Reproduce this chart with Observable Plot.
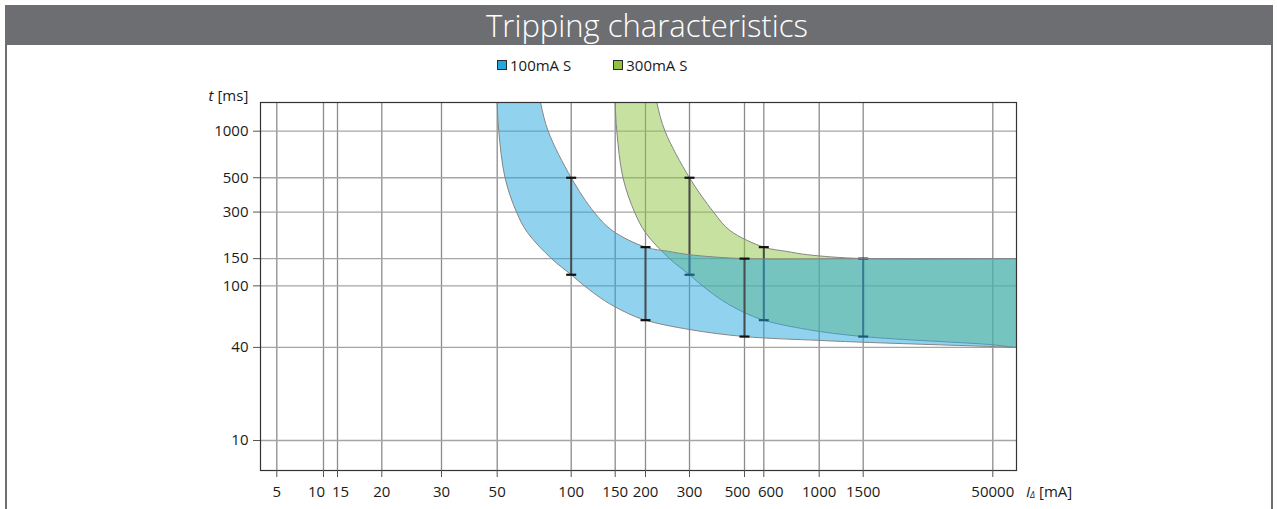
<!DOCTYPE html>
<html>
<head>
<meta charset="utf-8">
<script src="https://cdn.jsdelivr.net/npm/d3@7"></script>
<script src="https://cdn.jsdelivr.net/npm/@observablehq/plot@0.6"></script>
<style>
  body { margin: 0; width: 1277px; height: 509px; position: relative; overflow: hidden; background: #fff; font-family: "Open Sans", sans-serif; }
  #border { position: absolute; left: 5px; top: 5px; width: 1268px; height: 520px; box-sizing: border-box; border-left: 2px solid #6d6e71; border-right: 2px solid #6d6e71; }
  #header { position: absolute; left: 5px; top: 5px; width: 1268px; height: 40px; box-sizing: border-box; padding-left: 16px; background: #6d6e71; color: #fff; font-weight: 300; font-size: 31px; line-height: 40px; text-align: center; }
  #legend { position: absolute; left: 497px; top: 56px; height: 18px; display: flex; align-items: center; font-size: 15px; color: #1a1a1a; }
  .item { display: flex; align-items: center; margin-right: 42px; }
  .sw { width: 8px; height: 8px; border: 1px solid #2a2a2a; margin-right: 3px; }
  #chart { position: absolute; left: 0; top: 80px; }
</style>
</head>
<body>
<div id="border"></div>
<div id="header">Tripping characteristics</div>
<div id="legend"></div>
<div id="chart"></div>
<script>
// ---- data ----
const seriesNames = ["100mA S", "300mA S"];
const seriesColors = ["#23A7DF", "#8DC341"];

const xTicks = [5, 10, 15, 20, 30, 50, 100, 150, 200, 300, 500, 600, 1000, 1500, 50000];
const yTicks = [10, 40, 100, 150, 300, 500, 1000];

// 100mA S band
const blueLowerX = [49.9, 50, 50.75, 53.8, 59.9, 66.4, 83.2, 100, 113, 135.9, 167, 200, 300, 500, 1000, 1500, 50000, 95000, 200000];
const blueLowerY = [2600, 1533, 1000, 500, 300, 221, 150, 118, 100, 80.3, 67.1, 60, 52.2, 47, 44.4, 43.2, 40.5, 40, 39.8];
const blueUpperX = [70, 75, 80.6, 100, 123.4, 145.9, 200, 247.9, 300, 500, 1500, 95000, 200000];
const blueUpperY = [2600, 1533, 1000, 500, 300, 228, 178, 167, 159, 150, 150, 150, 150];
const blueBarX = [100, 200, 500];
const blueBarLo = [118, 60, 47];
const blueBarHi = [500, 178, 150];

// 300mA S band
const greenLowerX = [149.7, 150, 152.3, 161.5, 180.2, 200, 249.5, 300, 338.5, 407.6, 500, 600, 897.6, 1500, 50000, 95000, 200000];
const greenLowerY = [2600, 1533, 1000, 500, 300, 221, 150, 118, 100, 80.3, 67.1, 60, 52.2, 47, 41.6, 40, 39.8];
const greenUpperX = [210, 222, 239.5, 300, 375, 436.9, 600, 741.8, 897.6, 1500, 95000, 200000];
const greenUpperY = [2600, 1533, 1000, 500, 300, 228, 178, 167, 159, 150, 150, 150];
const greenBarX = [300, 600, 1500];
const greenBarLo = [118, 60, 47];
const greenBarHi = [500, 178, 150];

// ---- axis layout: the current axis is not uniformly logarithmic;
// offset (px) of each tick from the left edge of the frame, and label nudges ----
const xTickOffsets = [16.3, 63, 77, 121.3, 181, 236.7, 310.7, 354.7, 385, 429, 484, 503.3, 558.7, 602.7, 732.3];
const xLabelNudge = [0, -7, 3, 0, 0, 0, 0, 0, 0, 0, -7, 7, 0, 0, 0];
const xAxisLength = 756;

function xu(v) {
  const n = xTicks.length;
  let i = 0;
  while (i < n - 2 && v >= xTicks[i + 1]) i++;
  const a = Math.log(xTicks[i]), b = Math.log(xTicks[i + 1]);
  return xTickOffsets[i] + (Math.log(v) - a) / (b - a) * (xTickOffsets[i + 1] - xTickOffsets[i]);
}
const xTickU = xTicks.map(xu);

const pts = (xs, ys) => xs.map((x, i) => ({x, y: ys[i]}));
const blueLower = pts(blueLowerX, blueLowerY), blueUpper = pts(blueUpperX, blueUpperY);
const greenLower = pts(greenLowerX, greenLowerY), greenUpper = pts(greenUpperX, greenUpperY);
const bluePoly = [...blueLower, ...blueUpper.slice().reverse()];
const greenPoly = [...greenLower, ...greenUpper.slice().reverse()];
const bars = (xs, lo, hi) => xs.map((x, i) => ({x, lo: lo[i], hi: hi[i]}));
const blueBars = bars(blueBarX, blueBarLo, blueBarHi);
const greenBars = bars(greenBarX, greenBarLo, greenBarHi);
const caps = (b) => b.flatMap(d => [{x: d.x, y: d.lo}, {x: d.x, y: d.hi}]);

const capSymbol = {draw(ctx, size) { const w = Math.sqrt(size / Math.PI); ctx.moveTo(-w, 0); ctx.lineTo(w, 0); }};
const X = d => xu(d.x);

function bandMarks(poly, lower, upper, barData, color) {
  return [
    Plot.line(poly, {x: X, y: "y", curve: "catmull-rom", fill: color, fillOpacity: 0.5, stroke: "none", clip: true}),
    Plot.line(lower, {x: X, y: "y", curve: "catmull-rom", stroke: "#858585", strokeWidth: 1, clip: true}),
    Plot.line(upper, {x: X, y: "y", curve: "catmull-rom", stroke: "#858585", strokeWidth: 1, clip: true}),
    Plot.ruleX(barData, {x: X, y1: "lo", y2: "hi", stroke: "#4a4a4a", strokeWidth: 2}),
    Plot.dot(caps(barData), {x: X, y: "y", symbol: capSymbol, r: 5, stroke: "#111", strokeWidth: 2.2, fill: "none"})
  ];
}

const svg = Plot.plot({
  width: 1277, height: 429,
  marginLeft: 260, marginRight: 261, marginTop: 22, marginBottom: 39,
  style: {background: "none", fontFamily: "'Open Sans', sans-serif", fontSize: "15px", color: "#1a1a1a", overflow: "visible"},
  x: {type: "linear", domain: [0, xAxisLength]},
  y: {type: "log", domain: [6.4, 1533]},
  marks: [
    Plot.gridX({ticks: xTickU, stroke: "#8c8c8c", strokeOpacity: 1, strokeWidth: 1.3}),
    Plot.gridY({ticks: yTicks, stroke: "#a5a5a5", strokeOpacity: 1, strokeWidth: 1.3}),
    ...bandMarks(greenPoly, greenLower, greenUpper, greenBars, seriesColors[1]),
    ...bandMarks(bluePoly, blueLower, blueUpper, blueBars, seriesColors[0]),
    Plot.frame({stroke: "#333", strokeWidth: 1.2}),
    Plot.axisX({ticks: xTickU, tickFormat: () => "", tickSize: 7, stroke: "#555", label: null}),
    Plot.axisY({ticks: yTicks, tickFormat: () => "", tickSize: 7, stroke: "#555", label: null}),
    Plot.text(xTicks, {x: (d, i) => xu(d) + xLabelNudge[i], text: d => String(d), frameAnchor: "bottom", lineAnchor: "top", dy: 16, fontSize: 15, fill: "#1a1a1a"}),
    Plot.text(yTicks, {y: d => d, text: d => String(d), frameAnchor: "left", textAnchor: "end", dx: -12, fontSize: 15, fill: "#1a1a1a"})
  ]
});

const s = d3.select(svg);
const yl = s.append("text").attr("x", 248.3).attr("y", 21).attr("text-anchor", "end").attr("font-size", 15).attr("fill", "#1a1a1a");
yl.append("tspan").attr("font-style", "italic").text("t");
yl.append("tspan").text(" [ms]");
const xl = s.append("text").attr("x", 1026).attr("y", 417).attr("text-anchor", "start").attr("font-size", 15).attr("fill", "#1a1a1a");
xl.append("tspan").attr("font-style", "italic").text("I");
xl.append("tspan").attr("font-style", "italic").attr("font-size", 9).attr("dy", 1).text("Δ");
xl.append("tspan").attr("dy", -1).text(" [mA]");

document.getElementById("chart").appendChild(svg);

// legend
const legend = d3.select("#legend");
seriesNames.forEach((name, i) => {
  const it = legend.append("div").attr("class", "item");
  it.append("div").attr("class", "sw").style("background", seriesColors[i]);
  it.append("span").text(name);
});
</script>
</body>
</html>
